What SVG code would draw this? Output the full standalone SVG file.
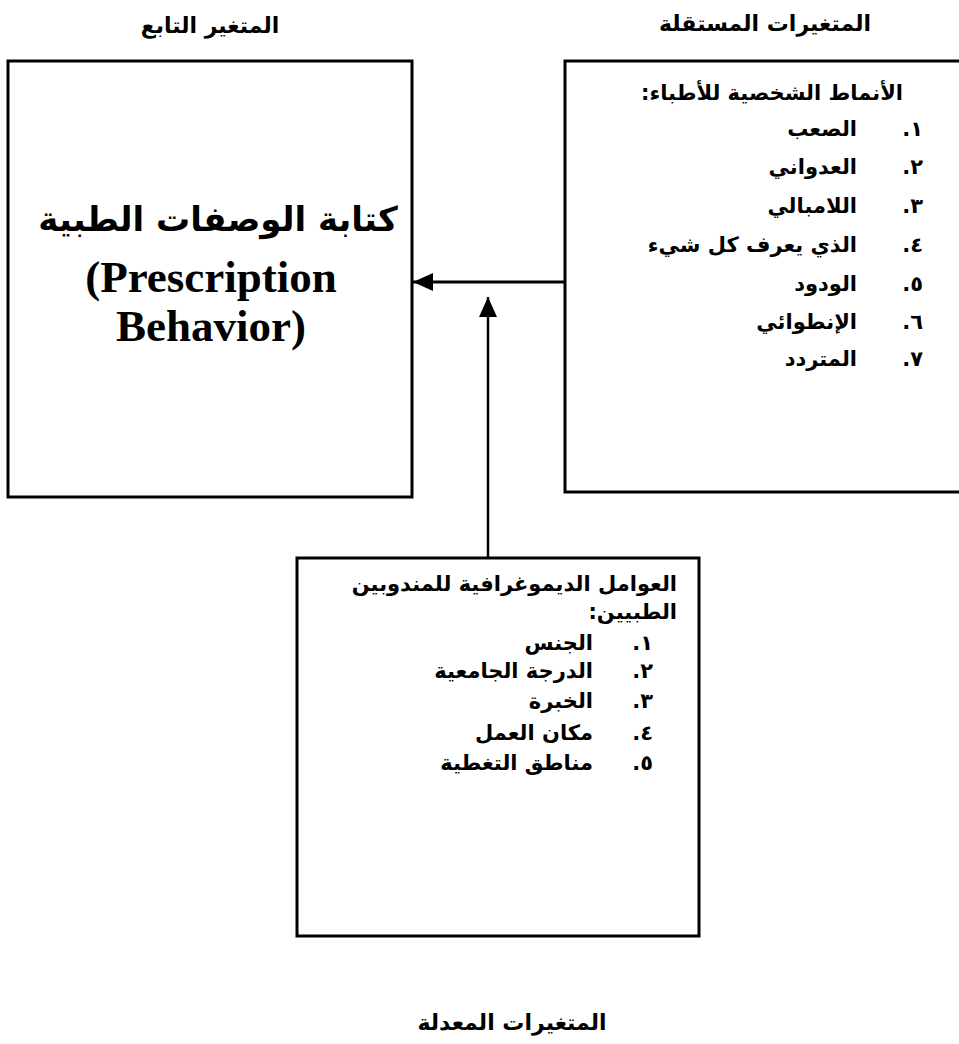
<svg xmlns="http://www.w3.org/2000/svg" width="959" height="1044" viewBox="0 0 959 1044">
<style>
.box{fill:#fff;stroke:#000;stroke-width:3}
.ar{font-family:"DejaVu Sans","Noto Sans",sans-serif;font-weight:bold;fill:#000}
.t{font-size:21px}
.it{font-size:21px}
.hd{font-size:22px}
.big{font-size:34px}
.en{font-family:"Liberation Serif","Times New Roman",serif;font-weight:bold;font-size:45px;fill:#000}
.line{stroke:#000;stroke-width:3;fill:none}
.vline{stroke:#000;stroke-width:2.5;fill:none}
</style>
<defs>
<marker id="ah" viewBox="0 0 20 18" refX="20" refY="9" markerWidth="20" markerHeight="18" markerUnits="userSpaceOnUse" orient="auto">
<path d="M0,0 L20,9 L0,18 Z" fill="#000"/>
</marker>
</defs>
<rect width="959" height="1044" fill="#fff"/>

<g id="titles">
<text class="ar hd" x="210" y="33" text-anchor="middle" direction="rtl">المتغير التابع</text>
<text class="ar hd" x="765" y="31" text-anchor="middle" direction="rtl">المتغيرات المستقلة</text>
<text class="ar hd" x="512" y="1030" text-anchor="middle" direction="rtl">المتغيرات المعدلة</text>
</g>

<g id="dependent">
<rect class="box" x="8" y="61" width="404" height="436"/>
<text class="ar big" x="218" y="231" text-anchor="middle" direction="rtl">كتابة الوصفات الطبية</text>
<text class="en" x="211" y="292" text-anchor="middle">(Prescription</text>
<text class="en" x="211" y="341" text-anchor="middle">Behavior)</text>
</g>

<g id="independent">
<rect class="box" x="565" y="61" width="400" height="431"/>
<text class="ar t" x="903" y="100" direction="rtl" text-anchor="start">الأنماط الشخصية للأطباء:</text>
<g class="ar it">
<text x="923" y="136" direction="rtl" text-anchor="start">١.</text>
<text x="857" y="136" direction="rtl" text-anchor="start">الصعب</text>
<text x="923" y="174" direction="rtl" text-anchor="start">٢.</text>
<text x="857" y="174" direction="rtl" text-anchor="start">العدواني</text>
<text x="923" y="213" direction="rtl" text-anchor="start">٣.</text>
<text x="857" y="213" direction="rtl" text-anchor="start">اللامبالي</text>
<text x="923" y="252" direction="rtl" text-anchor="start">٤.</text>
<text x="857" y="252" direction="rtl" text-anchor="start">الذي يعرف كل شيء</text>
<text x="923" y="291" direction="rtl" text-anchor="start">٥.</text>
<text x="857" y="291" direction="rtl" text-anchor="start">الودود</text>
<text x="923" y="329" direction="rtl" text-anchor="start">٦.</text>
<text x="857" y="329" direction="rtl" text-anchor="start">الإنطوائي</text>
<text x="923" y="366" direction="rtl" text-anchor="start">٧.</text>
<text x="857" y="366" direction="rtl" text-anchor="start">المتردد</text>
</g>
</g>

<g id="moderating">
<rect class="box" x="297" y="558" width="402" height="378"/>
<text class="ar t" x="677" y="591" direction="rtl" text-anchor="start">العوامل الديموغرافية للمندوبين</text>
<text class="ar t" x="677" y="619" direction="rtl" text-anchor="start">الطبيين:</text>
<g class="ar it">
<text x="653" y="650" direction="rtl" text-anchor="start">١.</text>
<text x="593" y="650" direction="rtl" text-anchor="start">الجنس</text>
<text x="653" y="678" direction="rtl" text-anchor="start">٢.</text>
<text x="593" y="678" direction="rtl" text-anchor="start">الدرجة الجامعية</text>
<text x="653" y="708" direction="rtl" text-anchor="start">٣.</text>
<text x="593" y="708" direction="rtl" text-anchor="start">الخبرة</text>
<text x="653" y="740" direction="rtl" text-anchor="start">٤.</text>
<text x="593" y="740" direction="rtl" text-anchor="start">مكان العمل</text>
<text x="653" y="770" direction="rtl" text-anchor="start">٥.</text>
<text x="593" y="770" direction="rtl" text-anchor="start">مناطق التغطية</text>
</g>
</g>

<g id="connectors">
<line class="line" x1="565" y1="282" x2="413" y2="282" marker-end="url(#ah)"/>
<line class="vline" x1="488" y1="558" x2="488" y2="297" marker-end="url(#ah)"/>
</g>
</svg>
